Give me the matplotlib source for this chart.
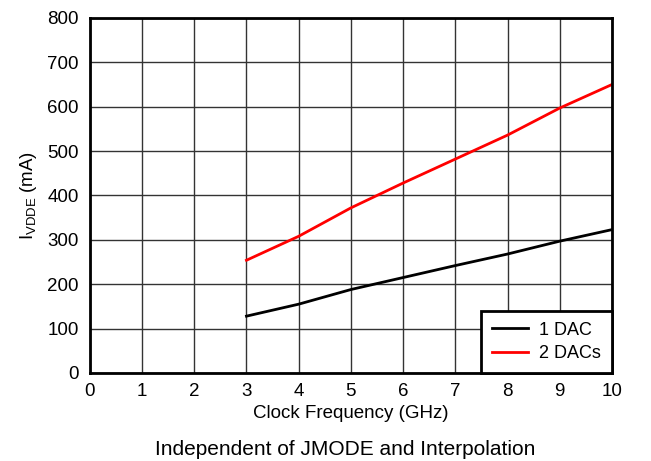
import matplotlib.pyplot as plt

plt.rcParams['font.family'] = ['Liberation Sans', 'DejaVu Sans']

freq = [3, 4, 5, 6, 7, 8, 9, 10]
one_dac = [128, 155, 188, 215, 242, 268, 297, 323]
two_dacs = [254, 308, 372, 428, 482, 536, 597, 650]

x_ticks = list(range(0, 11))
y_ticks = list(range(0, 801, 100))

fig = plt.figure(figsize=(6.51, 4.61), dpi=100)
ax = fig.add_axes([0.138, 0.191, 0.802, 0.770])

ax.plot(freq, one_dac, color='black', lw=2, label='1 DAC')
ax.plot(freq, two_dacs, color='#ff0000', lw=2, label='2 DACs')

ax.set_xlim(0, 10)
ax.set_ylim(0, 800)
ax.set_xticks(x_ticks)
ax.set_yticks(y_ticks)
ax.tick_params(labelsize=13.5, length=0)
ax.tick_params(axis='y', pad=8)
ax.tick_params(axis='x', pad=7)
ax.grid(True, color='#333333', lw=1)
ax.set_axisbelow(True)
for s in ax.spines.values():
    s.set_linewidth(2)

ax.set_xlabel('Clock Frequency (GHz)', fontsize=13.5, labelpad=4)
ax.set_ylabel('I$_{\\mathregular{VDDE}}$ (mA)', fontsize=13.5, labelpad=6)

leg = ax.legend(loc='lower right', fontsize=13, fancybox=False, framealpha=1,
                edgecolor='black', borderaxespad=0, handlelength=2.0,
                handletextpad=0.6, labelspacing=0.35, borderpad=0.6)
leg.get_frame().set_linewidth(2)

fig.text(0.53, 0.004, 'Independent of JMODE and Interpolation', ha='center',
         va='bottom', fontsize=15)

plt.savefig('out.png', dpi=100)
